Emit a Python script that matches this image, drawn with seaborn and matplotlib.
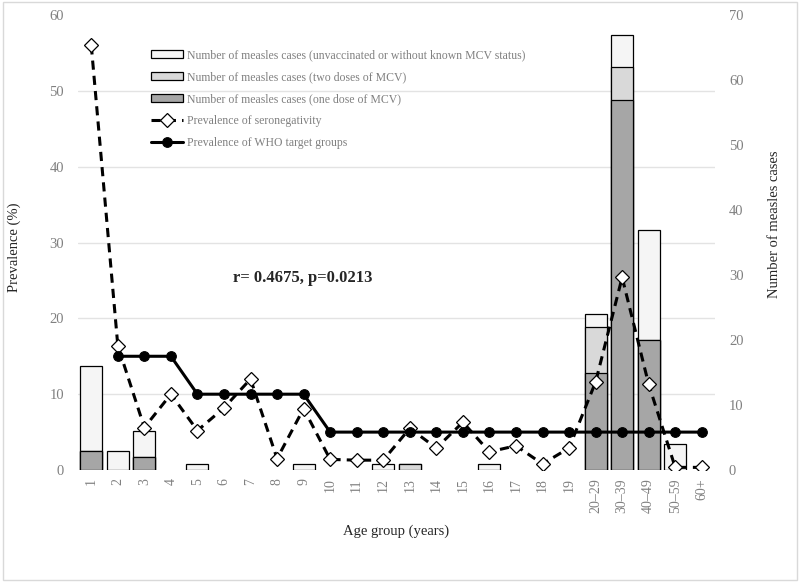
import numpy as np
import pandas as pd
import matplotlib.pyplot as plt
from matplotlib.patches import Rectangle
import seaborn as sns

sns.set_style("white")
plt.rcParams["font.family"] = ["Liberation Serif", "DejaVu Serif"]

# --- data ---
ages = [str(a) for a in range(1, 20)] + ["20–29", "30–39", "40–49", "50–59", "60+"]
one_dose = [3, 0, 2, 0, 0, 0, 0, 0, 0, 0, 0, 0, 0, 0, 0, 0, 0, 0, 0, 15, 57, 20, 0, 0]
two_dose = [0, 0, 0, 0, 0, 0, 0, 0, 0, 0, 0, 0, 1, 0, 0, 0, 0, 0, 0, 7, 5, 0, 0, 0]
unvacc   = [13, 3, 4, 0, 1, 0, 0, 0, 1, 0, 0, 1, 0, 0, 0, 1, 0, 0, 0, 2, 5, 17, 4, 0]
seroneg  = [56.0, 16.4, 5.6, 10.0, 5.2, 8.2, 12.0, 1.5, 8.1, 1.4, 1.3, 1.3, 5.5, 2.9,
            6.3, 2.4, 3.2, 0.8, 2.9, 11.6, 25.4, 11.3, 0.35, 0.35]
who_target = [np.nan, 15, 15, 15, 10, 10, 10, 10, 10, 5, 5, 5, 5, 5, 5, 5, 5, 5, 5,
              5, 5, 5, 5, 5]

LBL_UNVACC = "Number of measles cases (unvaccinated or without known MCV status)"
LBL_TWO = "Number of measles cases (two doses of MCV)"
LBL_ONE = "Number of measles cases (one dose of MCV)"
LBL_SERO = "Prevalence of seronegativity"
LBL_WHO = "Prevalence of WHO target groups"

GREY = "#808080"
C_UNVACC, C_TWO, C_ONE = "#f5f5f5", "#d9d9d9", "#a6a6a6"

one = np.array(one_dose)
two = np.array(two_dose)
unv = np.array(unvacc)
total = one + two + unv
one_two = one + two
pos = np.arange(len(ages))

fig = plt.figure(figsize=(8, 5.82), dpi=100)
axb = fig.add_axes([0.0975, 0.1924, 0.7963, 0.7818])

# stacked bars drawn as layered cumulative totals
sns.barplot(x=ages, y=total, color=C_UNVACC, edgecolor="black", linewidth=0.9,
            width=0.83, errorbar=None, label=LBL_UNVACC, ax=axb, saturation=1)
sns.barplot(x=ages, y=one_two, color=C_TWO, edgecolor="black", linewidth=0.9,
            width=0.83, errorbar=None, label=LBL_TWO, ax=axb, saturation=1)
sns.barplot(x=ages, y=one, color=C_ONE, edgecolor="black", linewidth=0.9,
            width=0.83, errorbar=None, label=LBL_ONE, ax=axb, saturation=1)
for p in axb.patches:
    if p.get_height() == 0:
        p.set_visible(False)

# prevalence lines on a twin axis drawn above the bars
axl = axb.twinx()

axb.set_ylim(0, 70)
axb.set_xlim(-0.5, len(ages) - 0.5)
axb.yaxis.tick_right()
axb.yaxis.set_label_position("right")
axb.set_yticks(range(0, 71, 10))
# gridlines follow the prevalence axis (0-60 step 10), kept behind the bars
axb.set_yticks(np.arange(0, 61, 10) * 70 / 60, minor=True)
axb.grid(which="minor", axis="y", color="#e3e3e3", linewidth=1)
axb.grid(which="major", visible=False)
axb.set_axisbelow(True)
axb.tick_params(axis="y", which="both", length=0, labelcolor=GREY, labelsize=10.5, pad=10,
                left=False, labelleft=False, right=True, labelright=True)
axb.tick_params(axis="x", length=0, labelcolor=GREY, labelsize=10, pad=6, rotation=90)
axb.set_ylabel("Number of measles cases", fontsize=10.5)
axb.yaxis.set_label_coords(1.083, 0.54)
axb.set_xlabel("Age group (years)", fontsize=10.5, labelpad=8)
for s in axb.spines.values():
    s.set_visible(False)

sns.lineplot(x=pos, y=seroneg, color="black", linewidth=2.2, linestyle=(0, (3, 2)),
             marker="D", markersize=7.5, markerfacecolor="white",
             markeredgecolor="black", markeredgewidth=0.9, label=LBL_SERO, ax=axl)
who = np.array(who_target, dtype=float)
ok = ~np.isnan(who)
sns.lineplot(x=pos[ok], y=who[ok], color="black", linewidth=2.2, marker="o",
             markersize=7, markerfacecolor="black", markeredgecolor="black",
             label=LBL_WHO, ax=axl)
axl.set_ylim(0, 60)
axl.set_yticks(range(0, 61, 10))
axl.yaxis.tick_left()
axl.yaxis.set_label_position("left")
axl.tick_params(axis="y", length=0, labelcolor=GREY, labelsize=10.5, pad=10,
                right=False, labelright=False, left=True, labelleft=True)
axl.set_ylabel("Prevalence (%)", fontsize=10.5)
axl.yaxis.set_label_coords(-0.09, 0.49)
for s in axl.spines.values():
    s.set_visible(False)

axl.text(0.353, 0.422, "r= 0.4675, p=0.0213", transform=axl.transAxes,
         ha="center", va="center", fontsize=12, fontweight="bold")

hb, lb = axb.get_legend_handles_labels()
hl, ll = axl.get_legend_handles_labels()
if axb.get_legend():
    axb.get_legend().remove()
leg = axl.legend(hb + hl, lb + ll, loc="upper left", bbox_to_anchor=(0.115, 0.925),
                 frameon=False, fontsize=8.5, labelspacing=0.85, handlelength=2.7,
                 handletextpad=0.35, borderaxespad=0, borderpad=0)
for t in leg.get_texts():
    t.set_color(GREY)

fig.patches.append(Rectangle((0.004, 0.004), 0.992, 0.992, transform=fig.transFigure,
                             fill=False, edgecolor="#d9d9d9", linewidth=1))

plt.savefig("out.png", dpi=100)
